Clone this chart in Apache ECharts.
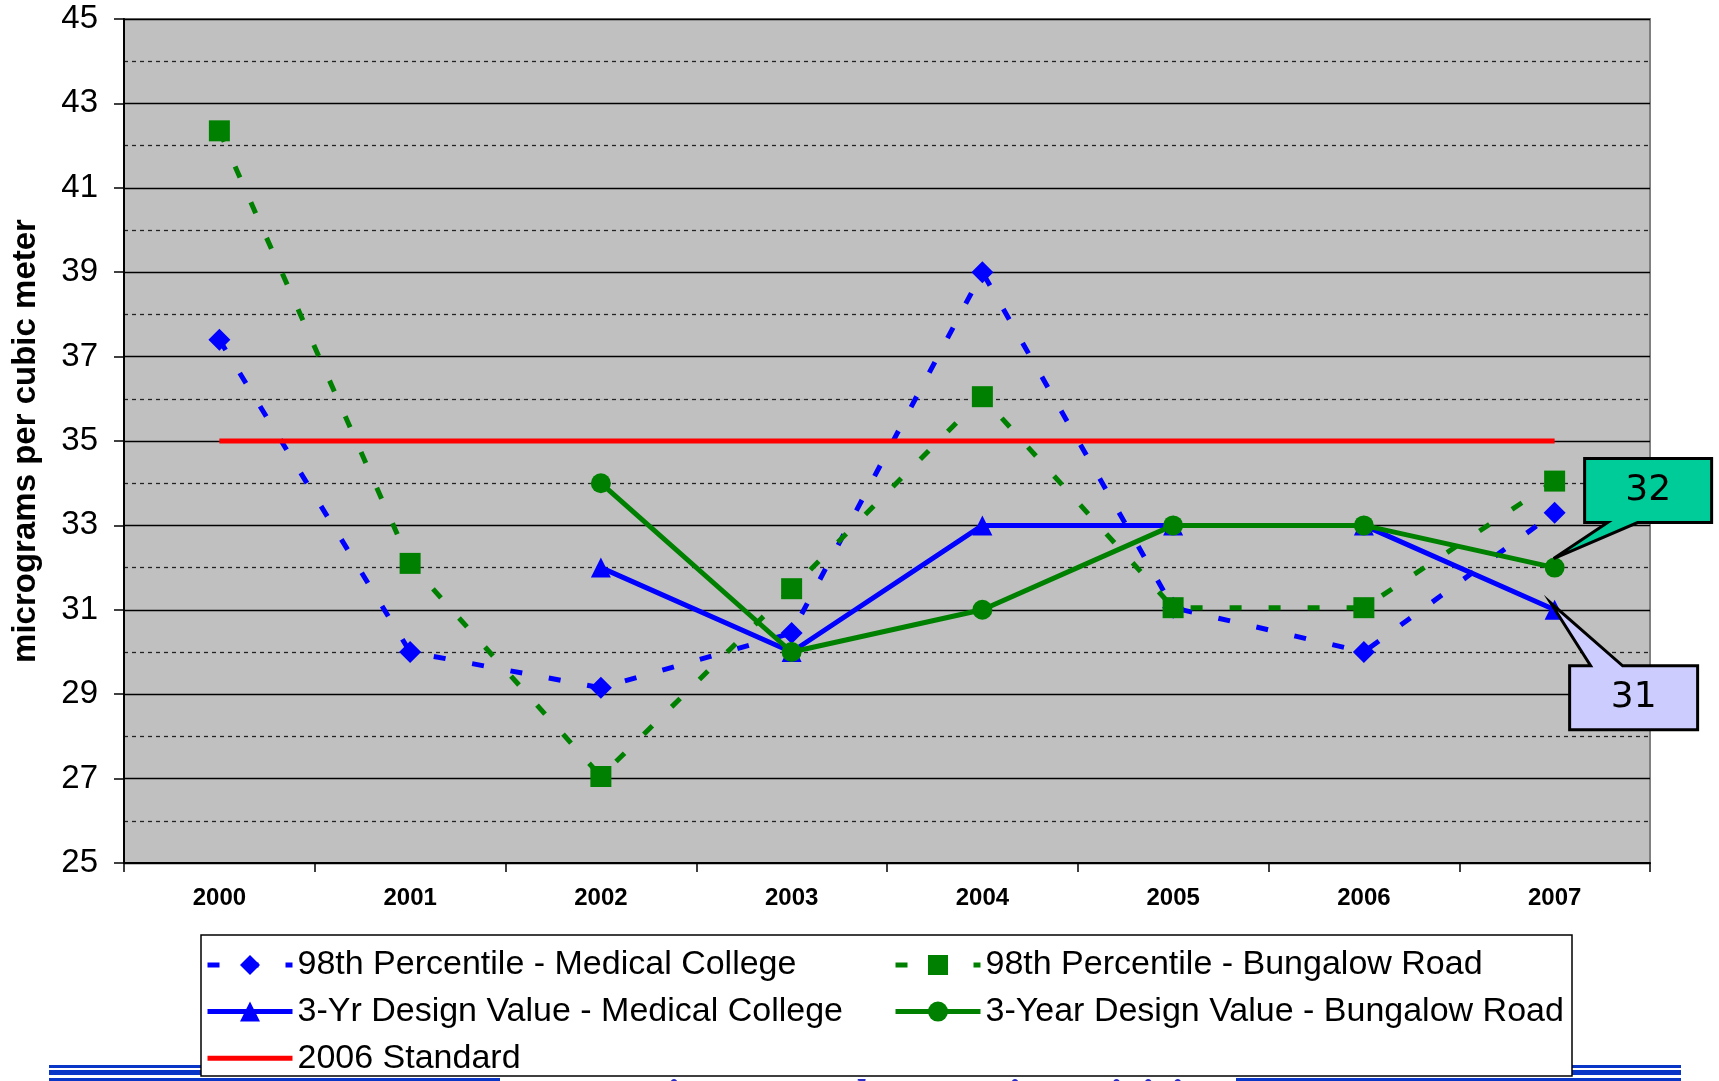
<!DOCTYPE html>
<html>
<head>
<meta charset="utf-8">
<title>PM2.5 design values</title>
<script src="https://cdn.jsdelivr.net/npm/echarts@6/dist/echarts.min.js"></script>
<style>
  html, body { margin: 0; padding: 0; background: #fff; }
  #chart { width: 1719px; height: 1081px; }
</style>
</head>
<body>
<div id="chart"></div>
<script>
// years on the x axis
var years = ['2000', '2001', '2002', '2003', '2004', '2005', '2006', '2007'];

// 98th percentile values
var pctMedical = [37.4, 30, 29.15, 30.45, 39, 31.05, 30, 33.3];
var pctBungalow = [42.35, 32.1, 27.05, 31.5, 36.05, 31.05, 31.05, 34.05];

// 3-year design values (none before 2002)
var dvMedical = [null, null, 32, 30, 33, 33, 33, 31];
var dvBungalow = [null, null, 34, 30, 31, 33, 33, 32];

// 2006 standard
var standard = [35, 35, 35, 35, 35, 35, 35, 35];

// callout labels at the last year
var calloutBungalow = '32';
var calloutMedical = '31';

var BLUE = '#0000FF';
var GREEN = '#008000';
var RED = '#FF0000';

var chart = echarts.init(document.getElementById('chart'));

var legendText = {
  fontFamily: 'Liberation Sans',
  fontSize: 34,
  color: '#000'
};

var option = {
  animation: false,
  backgroundColor: '#fff',
  grid: {
    left: 124,
    right: 69,
    top: 19,
    bottom: 218,
    containLabel: false,
    outerBoundsMode: 'none',
    show: true,
    backgroundColor: '#C0C0C0',
    borderColor: '#808080',
    borderWidth: 2
  },
  legend: [
    {
      orient: 'vertical',
      left: 205,
      top: 948,
      padding: 0,
      itemWidth: 85,
      itemHeight: 25,
      itemGap: 12.6,
      selectedMode: false,
      textStyle: legendText,
      lineStyle: { width: 5 },
      data: [
        '98th Percentile - Medical College',
        '3-Yr Design Value - Medical College',
        { name: '2006 Standard', icon: 'path://M0,0H85V5H0Z' }
      ],
      z: 10
    },
    {
      orient: 'vertical',
      left: 893,
      top: 948,
      padding: 0,
      itemWidth: 85,
      itemHeight: 25,
      itemGap: 12.6,
      selectedMode: false,
      textStyle: legendText,
      lineStyle: { width: 5 },
      data: ['98th Percentile - Bungalow Road', '3-Year Design Value - Bungalow Road'],
      z: 10
    }
  ],
  xAxis: {
    type: 'category',
    data: years,
    boundaryGap: true,
    axisLine: { lineStyle: { color: '#000', width: 2 } },
    axisTick: { show: true, length: 9, interval: 0, lineStyle: { color: '#000', width: 1.5 } },
    axisLabel: {
      margin: 23,
      fontFamily: 'Liberation Sans',
      fontWeight: 'bold',
      fontSize: 24,
      color: '#000'
    },
    splitLine: { show: false }
  },
  yAxis: {
    type: 'value',
    min: 25,
    max: 45,
    interval: 2,
    name: 'micrograms per cubic meter',
    nameLocation: 'middle',
    nameGap: 82,
    nameTextStyle: {
      fontFamily: 'Liberation Sans',
      fontWeight: 'bold',
      fontSize: 33,
      color: '#000'
    },
    axisLine: { show: true, lineStyle: { color: '#000', width: 2 } },
    axisTick: { show: true, length: 10, lineStyle: { color: '#000', width: 1.5 } },
    axisLabel: {
      margin: 26,
      fontFamily: 'Liberation Sans',
      fontSize: 33,
      color: '#000'
    },
    splitLine: { show: true, lineStyle: { color: '#000', width: 1.3 } },
    minorTick: { show: false, splitNumber: 2 },
    minorSplitLine: { show: true, lineStyle: { color: '#222', width: 1.3, type: [4, 4] } }
  },
  series: [
    {
      name: '98th Percentile - Medical College',
      type: 'line',
      data: pctMedical,
      symbol: 'diamond',
      symbolSize: 22,
      color: BLUE,
      lineStyle: { color: BLUE, width: 5, type: [12, 27] },
      itemStyle: { color: BLUE },
      emphasis: { disabled: true }
    },
    {
      name: '98th Percentile - Bungalow Road',
      type: 'line',
      data: pctBungalow,
      symbol: 'rect',
      symbolSize: 21,
      color: GREEN,
      lineStyle: { color: GREEN, width: 5, type: [12, 27] },
      itemStyle: { color: GREEN },
      emphasis: { disabled: true }
    },
    {
      name: '3-Yr Design Value - Medical College',
      type: 'line',
      data: dvMedical,
      symbol: 'triangle',
      symbolSize: 20,
      color: BLUE,
      lineStyle: { color: BLUE, width: 5 },
      itemStyle: { color: BLUE },
      emphasis: { disabled: true }
    },
    {
      name: '3-Year Design Value - Bungalow Road',
      type: 'line',
      data: dvBungalow,
      symbol: 'circle',
      symbolSize: 20,
      color: GREEN,
      lineStyle: { color: GREEN, width: 5 },
      itemStyle: { color: GREEN },
      emphasis: { disabled: true }
    },
    {
      name: '2006 Standard',
      type: 'line',
      data: standard,
      symbol: 'none',
      color: RED,
      lineStyle: { color: RED, width: 5 },
      itemStyle: { color: RED },
      emphasis: { disabled: true }
    }
  ]
};

chart.setOption(option);

// callout shape: box with a pointer to the data point (tip)
function callout(id, tip, box, base, fill, text) {
  var x0 = tip[0] + box[0], y0 = tip[1] + box[1];
  var x1 = tip[0] + box[2], y1 = tip[1] + box[3];
  var pts;
  if (base.edge === 'bottom') {
    pts = [[x0, y0], [x1, y0], [x1, y1], [tip[0] + base.b, y1], tip, [tip[0] + base.a, y1], [x0, y1]];
  } else {
    pts = [[x0, y0], [tip[0] + base.a, y0], tip, [tip[0] + base.b, y0], [x1, y0], [x1, y1], [x0, y1]];
  }
  return [
    {
      id: id + '-shape',
      type: 'polygon',
      z: 20,
      shape: { points: pts },
      style: { fill: fill, stroke: '#000', lineWidth: 3 }
    },
    {
      id: id + '-text',
      type: 'text',
      z: 21,
      x: (x0 + x1) / 2,
      y: (y0 + y1) / 2,
      style: {
        text: text,
        fill: '#000',
        font: '36px "DejaVu Sans"',
        align: 'center',
        verticalAlign: 'middle'
      }
    }
  ];
}

var ptBungalow = chart.convertToPixel({ seriesIndex: 3 }, [7, dvBungalow[7]]);
var ptMedical = chart.convertToPixel({ seriesIndex: 2 }, [7, dvMedical[7]]);
var tipB = [ptBungalow[0] - 1, ptBungalow[1] - 9];
var tipM = [ptMedical[0] - 4, ptMedical[1] - 7];

var graphics = []
  .concat(callout('cB', tipB, [31, -100, 158, -36], { edge: 'bottom', a: 54, b: 84 }, '#00CC99', calloutBungalow))
  .concat(callout('cM', tipM, [19, 63, 147, 127], { edge: 'top', a: 40, b: 72 }, '#CCCCFF', calloutMedical));

// bottom page decoration (stripes and footer text mostly hidden by the legend)
var STRIPE = '#0A36C8';
graphics.push(
  { type: 'rect', z: 1, shape: { x: 49, y: 1065, width: 1632, height: 3 }, style: { fill: STRIPE } },
  { type: 'rect', z: 1, shape: { x: 49, y: 1070, width: 1632, height: 5 }, style: { fill: STRIPE } },
  { type: 'rect', z: 1, shape: { x: 49, y: 1078, width: 451, height: 3 }, style: { fill: STRIPE } },
  { type: 'rect', z: 1, shape: { x: 1236, y: 1078, width: 445, height: 3 }, style: { fill: STRIPE } },
  {
    type: 'text', z: 2, x: 592, y: 1077,
    style: {
      text: 'Environmental Protection Division',
      fill: '#2A2AC8',
      font: 'italic bold 44px "Liberation Serif"',
      verticalAlign: 'top'
    }
  },
  {
    type: 'rect', z: 5,
    shape: { x: 201, y: 935, width: 1371, height: 141 },
    style: { fill: '#fff', stroke: '#000', lineWidth: 1.5 }
  }
);

chart.setOption({ graphic: graphics });
</script>
</body>
</html>
